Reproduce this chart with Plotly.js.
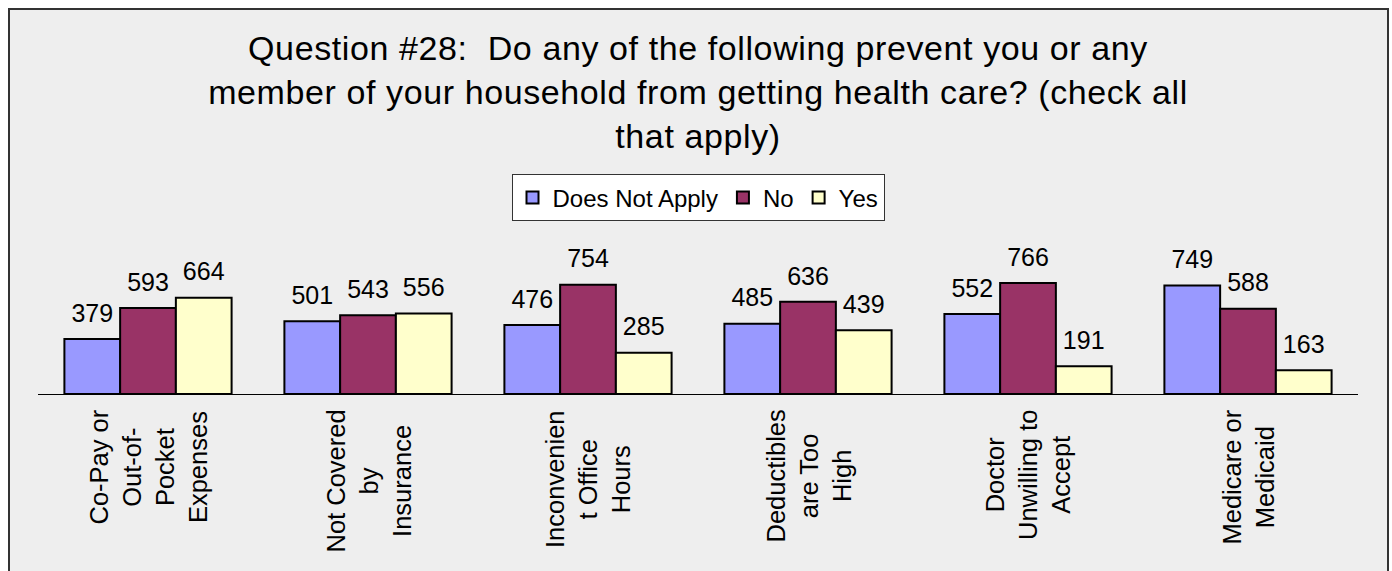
<!DOCTYPE html>
<html>
<head>
<meta charset="utf-8">
<script src="https://cdn.plot.ly/plotly-3.0.1.min.js"></script>
<style>
  html, body { margin: 0; padding: 0; background: #ffffff; }
  #frame { position: absolute; left: 8px; top: 8px; width: 1377px; height: 580px;
           border: 2px solid #333333; background: #eeeeee; overflow: hidden; }
  #chart { width: 1377px; height: 580px; }
  .gtitle { letter-spacing: 0.6px; }
</style>
</head>
<body>
<div id="frame"><div id="chart"></div></div>
<script>
// ---- Data ----
const categories = ["Co-Pay", "Not Covered", "Inconvenient", "Deductibles", "Doctor", "Medicare"];
const tickLabels = [
  "Co-Pay or<br>Out-of-<br>Pocket<br>Expenses",
  "Not Covered<br>by<br>Insurance",
  "Inconvenien<br>t Office<br>Hours",
  "Deductibles<br>are Too<br>High",
  "Doctor<br>Unwilling to<br>Accept",
  "Medicare or<br>Medicaid"
];
const seriesNames = ["Does Not Apply", "No", "Yes"];
const doesNotApply = [379, 501, 476, 485, 552, 749];
const no = [593, 543, 754, 636, 766, 588];
const yes = [664, 556, 285, 439, 191, 163];
const seriesColors = ["#9999FF", "#993366", "#FFFFCC"];
const titleText = "Question #28:  Do any of the following prevent you or any<br>member of your household from getting health care? (check all<br>that apply)";

const FONT = "'Liberation Sans', Arial, Helvetica, sans-serif";
const seriesValues = [doesNotApply, no, yes];

const traces = [];
seriesValues.forEach((vals, i) => {
  traces.push({
    type: "bar",
    name: seriesNames[i],
    x: categories,
    y: vals,
    offsetgroup: "g" + i,
    marker: { color: seriesColors[i], line: { color: "#000000", width: 2 } },
    hoverinfo: "skip"
  });
});
seriesValues.forEach((vals, i) => {
  traces.push({
    type: "scatter",
    mode: "markers+text",
    x: categories,
    y: vals,
    offsetgroup: "g" + i,
    text: vals.map(String),
    textposition: "top center",
    textfont: { family: FONT, size: 25, color: "#000000" },
    marker: { size: 16, color: "rgba(0,0,0,0)" },
    showlegend: false,
    cliponaxis: false,
    hoverinfo: "skip"
  });
});

const annotations = categories.map((c, i) => ({
  x: c, xref: "x",
  y: 0, yref: "paper",
  yanchor: "top", xanchor: "center",
  yshift: -14,
  text: tickLabels[i],
  textangle: -90,
  align: "center",
  showarrow: false,
  font: { family: FONT, size: 25.5, color: "#000000" }
}));

const layout = {
  width: 1377,
  height: 580,
  paper_bgcolor: "#eeeeee",
  plot_bgcolor: "#eeeeee",
  margin: { l: 28, r: 29, t: 239, b: 196, pad: 0 },
  barmode: "group",
  bargap: 0.24,
  bargroupgap: 0,
  scattermode: "group",
  scattergap: 0.24,
  font: { family: FONT, color: "#000000" },
  title: {
    text: titleText,
    font: { family: FONT, size: 34, color: "#000000" },
    x: 0.5, xanchor: "center",
    xref: "paper",
    y: 0.914, yanchor: "top", yref: "container"
  },
  showlegend: true,
  legend: {
    orientation: "h",
    x: 0.5, xanchor: "center",
    y: 1.515, yanchor: "top",
    bgcolor: "#ffffff",
    bordercolor: "#333333",
    borderwidth: 1,
    font: { family: FONT, size: 24, color: "#000000" },
    traceorder: "normal"
  },
  xaxis: {
    type: "category",
    showticklabels: false,
    showline: true, linecolor: "#000000", linewidth: 1,
    ticks: "", showgrid: false, zeroline: false,
    fixedrange: true
  },
  yaxis: {
    range: [0, 1000],
    visible: false,
    showgrid: false, zeroline: false,
    fixedrange: true
  },
  annotations: annotations
};

Plotly.newPlot("chart", traces, layout, { displayModeBar: false, staticPlot: true });
</script>
</body>
</html>
